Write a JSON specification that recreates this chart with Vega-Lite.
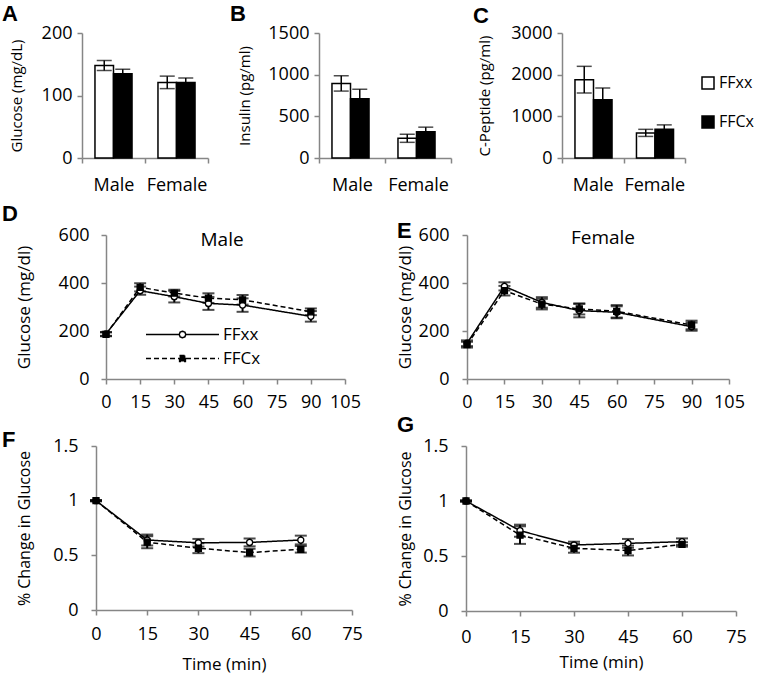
{
  "$schema": "https://vega.github.io/schema/vega-lite/v6.json",
  "padding": {"left": 2, "top": 3, "right": 2, "bottom": 2},
  "config": {
    "font": "Open Sans",
    "view": {"stroke": null},
    "axis": {"grid": false, "domainColor": "#868686", "tickColor": "#868686", "domainWidth": 1.5, "tickWidth": 1.5, "tickSize": 5, "labelColor": "black", "titleColor": "black", "labelFontSize": 18, "titleFontSize": 15, "titleFontWeight": "normal", "labelFont": "Open Sans", "titleFont": "Open Sans", "labelOverlap": false, "labelFlush": false},
    "axisX": {"labelAngle": 0},
    "title": {"font": "Liberation Sans", "fontSize": 22, "fontWeight": "bold", "anchor": "start", "frame": "group", "baseline": "alphabetic", "color": "black"},
    "legend": {"labelFont": "Open Sans", "labelColor": "black", "padding": 0}
  },
  "datasets": {
    "bars": [
      {"panel": "A", "sex": "Male", "genotype": "FFxx", "value": 148, "lo": 140, "hi": 156},
      {"panel": "A", "sex": "Male", "genotype": "FFCx", "value": 135, "lo": 128, "hi": 142},
      {"panel": "A", "sex": "Female", "genotype": "FFxx", "value": 121, "lo": 111, "hi": 131},
      {"panel": "A", "sex": "Female", "genotype": "FFCx", "value": 121, "lo": 114, "hi": 128},
      {"panel": "B", "sex": "Male", "genotype": "FFxx", "value": 895, "lo": 803, "hi": 987},
      {"panel": "B", "sex": "Male", "genotype": "FFCx", "value": 710, "lo": 595, "hi": 825},
      {"panel": "B", "sex": "Female", "genotype": "FFxx", "value": 238, "lo": 188, "hi": 285},
      {"panel": "B", "sex": "Female", "genotype": "FFCx", "value": 315, "lo": 260, "hi": 370},
      {"panel": "C", "sex": "Male", "genotype": "FFxx", "value": 1880, "lo": 1560, "hi": 2200},
      {"panel": "C", "sex": "Male", "genotype": "FFCx", "value": 1400, "lo": 1120, "hi": 1680},
      {"panel": "C", "sex": "Female", "genotype": "FFxx", "value": 603, "lo": 518, "hi": 688},
      {"panel": "C", "sex": "Female", "genotype": "FFCx", "value": 690, "lo": 585, "hi": 795}
    ],
    "ts": [
      {"panel": "D", "genotype": "FFxx", "time": 0, "value": 188, "lo": 180, "hi": 196},
      {"panel": "D", "genotype": "FFxx", "time": 15, "value": 368, "lo": 351, "hi": 385},
      {"panel": "D", "genotype": "FFxx", "time": 30, "value": 343, "lo": 319, "hi": 367},
      {"panel": "D", "genotype": "FFxx", "time": 45, "value": 315, "lo": 288, "hi": 342},
      {"panel": "D", "genotype": "FFxx", "time": 60, "value": 308, "lo": 280, "hi": 336},
      {"panel": "D", "genotype": "FFxx", "time": 90, "value": 261, "lo": 239, "hi": 283},
      {"panel": "D", "genotype": "FFCx", "time": 0, "value": 186, "lo": 178, "hi": 194},
      {"panel": "D", "genotype": "FFCx", "time": 15, "value": 382, "lo": 365, "hi": 399},
      {"panel": "D", "genotype": "FFCx", "time": 30, "value": 358, "lo": 344, "hi": 372},
      {"panel": "D", "genotype": "FFCx", "time": 45, "value": 337, "lo": 317, "hi": 357},
      {"panel": "D", "genotype": "FFCx", "time": 60, "value": 330, "lo": 310, "hi": 350},
      {"panel": "D", "genotype": "FFCx", "time": 90, "value": 280, "lo": 266, "hi": 294},
      {"panel": "E", "genotype": "FFxx", "time": 0, "value": 149, "lo": 137, "hi": 161},
      {"panel": "E", "genotype": "FFxx", "time": 15, "value": 386, "lo": 369, "hi": 403},
      {"panel": "E", "genotype": "FFxx", "time": 30, "value": 319, "lo": 297, "hi": 341},
      {"panel": "E", "genotype": "FFxx", "time": 45, "value": 285, "lo": 257, "hi": 313},
      {"panel": "E", "genotype": "FFxx", "time": 60, "value": 278, "lo": 253, "hi": 303},
      {"panel": "E", "genotype": "FFxx", "time": 90, "value": 218, "lo": 201, "hi": 235},
      {"panel": "E", "genotype": "FFCx", "time": 0, "value": 143, "lo": 131, "hi": 155},
      {"panel": "E", "genotype": "FFCx", "time": 15, "value": 368, "lo": 348, "hi": 388},
      {"panel": "E", "genotype": "FFCx", "time": 30, "value": 312, "lo": 290, "hi": 334},
      {"panel": "E", "genotype": "FFCx", "time": 45, "value": 292, "lo": 269, "hi": 315},
      {"panel": "E", "genotype": "FFCx", "time": 60, "value": 282, "lo": 256, "hi": 308},
      {"panel": "E", "genotype": "FFCx", "time": 90, "value": 225, "lo": 207, "hi": 243},
      {"panel": "F", "genotype": "FFxx", "time": 0, "value": 1, "lo": 0.995, "hi": 1.005},
      {"panel": "F", "genotype": "FFxx", "time": 15, "value": 0.64, "lo": 0.59, "hi": 0.69},
      {"panel": "F", "genotype": "FFxx", "time": 30, "value": 0.615, "lo": 0.58, "hi": 0.65},
      {"panel": "F", "genotype": "FFxx", "time": 45, "value": 0.618, "lo": 0.582, "hi": 0.654},
      {"panel": "F", "genotype": "FFxx", "time": 60, "value": 0.64, "lo": 0.6, "hi": 0.68},
      {"panel": "F", "genotype": "FFCx", "time": 0, "value": 1, "lo": 0.995, "hi": 1.005},
      {"panel": "F", "genotype": "FFCx", "time": 15, "value": 0.62, "lo": 0.565, "hi": 0.675},
      {"panel": "F", "genotype": "FFCx", "time": 30, "value": 0.565, "lo": 0.52, "hi": 0.61},
      {"panel": "F", "genotype": "FFCx", "time": 45, "value": 0.525, "lo": 0.49, "hi": 0.56},
      {"panel": "F", "genotype": "FFCx", "time": 60, "value": 0.555, "lo": 0.525, "hi": 0.585},
      {"panel": "G", "genotype": "FFxx", "time": 0, "value": 1, "lo": 0.995, "hi": 1.005},
      {"panel": "G", "genotype": "FFxx", "time": 15, "value": 0.73, "lo": 0.675, "hi": 0.785},
      {"panel": "G", "genotype": "FFxx", "time": 30, "value": 0.6, "lo": 0.57, "hi": 0.63},
      {"panel": "G", "genotype": "FFxx", "time": 45, "value": 0.615, "lo": 0.575, "hi": 0.655},
      {"panel": "G", "genotype": "FFxx", "time": 60, "value": 0.63, "lo": 0.6, "hi": 0.66},
      {"panel": "G", "genotype": "FFCx", "time": 0, "value": 1, "lo": 0.995, "hi": 1.005},
      {"panel": "G", "genotype": "FFCx", "time": 15, "value": 0.69, "lo": 0.61, "hi": 0.77},
      {"panel": "G", "genotype": "FFCx", "time": 30, "value": 0.57, "lo": 0.53, "hi": 0.61},
      {"panel": "G", "genotype": "FFCx", "time": 45, "value": 0.55, "lo": 0.505, "hi": 0.595},
      {"panel": "G", "genotype": "FFCx", "time": 60, "value": 0.605, "lo": 0.585, "hi": 0.625}
    ]
  },
  "spacing": 9,
  "resolve": {"scale": {"fill": "independent", "shape": "independent", "strokeDash": "independent"}},
  "vconcat": [
    {
      "resolve": {"scale": {"fill": "independent", "shape": "independent", "strokeDash": "independent"}},
      "hconcat": [
        {
          "width": 102, "height": 125,
          "title": {"text": "A", "dx": -104, "offset": -2},
          "data": {"name": "bars"},
          "transform": [{"filter": "datum.panel === 'A'"}],
          "encoding": {
            "x": {"field": "sex", "type": "nominal", "sort": ["Male", "Female"], "scale": {"paddingInner": 0, "paddingOuter": 0, "range": [-24, 102]}, "axis": {"title": null, "tickBand": "extent", "labelPadding": 13}},
            "xOffset": {"field": "genotype", "sort": ["FFxx", "FFCx"], "scale": {"paddingInner": 0, "paddingOuter": 0.7}}
          },
          "layer": [
            {"mark": {"type": "bar", "stroke": "black", "strokeWidth": 1.5},
             "encoding": {
               "y": {"field": "value", "type": "quantitative", "scale": {"domain": [0, 200], "nice": false}, "axis": {"values": [0, 100, 200], "format": "d", "offset": 24, "title": "Glucose (mg/dL)", "labelPadding": 5, "titlePadding": 17}},
               "fill": {"field": "genotype", "scale": {"domain": ["FFxx", "FFCx"], "range": ["white", "black"]}, "legend": null}}},
            {"mark": {"type": "rule", "color": "black", "strokeWidth": 1.5}, "encoding": {"y": {"field": "lo", "type": "quantitative"}, "y2": {"field": "hi"}}},
            {"mark": {"type": "tick", "orient": "horizontal", "color": "black", "size": 15, "thickness": 1.5}, "encoding": {"y": {"field": "lo", "type": "quantitative"}}},
            {"mark": {"type": "tick", "orient": "horizontal", "color": "black", "size": 15, "thickness": 1.5}, "encoding": {"y": {"field": "hi", "type": "quantitative"}}}
          ]
        },
        {
          "width": 132, "height": 125,
          "title": {"text": "B", "dx": -89, "offset": -2},
          "data": {"name": "bars"},
          "transform": [{"filter": "datum.panel === 'B'"}],
          "encoding": {
            "x": {"field": "sex", "type": "nominal", "sort": ["Male", "Female"], "scale": {"paddingInner": 0, "paddingOuter": 0}, "axis": {"title": null, "tickBand": "extent", "labelPadding": 13}},
            "xOffset": {"field": "genotype", "sort": ["FFxx", "FFCx"], "scale": {"paddingInner": 0, "paddingOuter": 0.7}}
          },
          "layer": [
            {"mark": {"type": "bar", "stroke": "black", "strokeWidth": 1.5},
             "encoding": {
               "y": {"field": "value", "type": "quantitative", "scale": {"domain": [0, 1500], "nice": false}, "axis": {"values": [0, 500, 1000, 1500], "format": "d", "title": "Insulin (pg/ml)", "labelPadding": 5, "titlePadding": 15}},
               "fill": {"field": "genotype", "scale": {"domain": ["FFxx", "FFCx"], "range": ["white", "black"]}, "legend": null}}},
            {"mark": {"type": "rule", "color": "black", "strokeWidth": 1.5}, "encoding": {"y": {"field": "lo", "type": "quantitative"}, "y2": {"field": "hi"}}},
            {"mark": {"type": "tick", "orient": "horizontal", "color": "black", "size": 15, "thickness": 1.5}, "encoding": {"y": {"field": "lo", "type": "quantitative"}}},
            {"mark": {"type": "tick", "orient": "horizontal", "color": "black", "size": 15, "thickness": 1.5}, "encoding": {"y": {"field": "hi", "type": "quantitative"}}}
          ]
        },
        {
          "width": 123, "height": 125,
          "title": {"text": "C", "dx": -89, "offset": -4},
          "data": {"name": "bars"},
          "transform": [{"filter": "datum.panel === 'C'"}],
          "encoding": {
            "x": {"field": "sex", "type": "nominal", "sort": ["Male", "Female"], "scale": {"paddingInner": 0, "paddingOuter": 0}, "axis": {"title": null, "tickBand": "extent", "labelPadding": 13}},
            "xOffset": {"field": "genotype", "sort": ["FFxx", "FFCx"], "scale": {"paddingInner": 0, "paddingOuter": 0.7}}
          },
          "layer": [
            {"mark": {"type": "bar", "stroke": "black", "strokeWidth": 1.5},
             "encoding": {
               "y": {"field": "value", "type": "quantitative", "scale": {"domain": [0, 3000], "nice": false}, "axis": {"values": [0, 1000, 2000, 3000], "format": "d", "title": "C-Peptide (pg/ml)", "labelPadding": 5, "titlePadding": 18}},
               "fill": {"field": "genotype", "scale": {"domain": ["FFxx", "FFCx"], "range": ["white", "black"]},
                        "legend": {"title": null, "orient": "none", "legendX": 138, "legendY": 42, "symbolType": "square", "symbolSize": 144, "symbolStrokeColor": "black", "symbolStrokeWidth": 1.5, "labelFontSize": 16, "labelOffset": 3, "rowPadding": 21}}}},
            {"mark": {"type": "rule", "color": "black", "strokeWidth": 1.5}, "encoding": {"y": {"field": "lo", "type": "quantitative"}, "y2": {"field": "hi"}}},
            {"mark": {"type": "tick", "orient": "horizontal", "color": "black", "size": 15, "thickness": 1.5}, "encoding": {"y": {"field": "lo", "type": "quantitative"}}},
            {"mark": {"type": "tick", "orient": "horizontal", "color": "black", "size": 15, "thickness": 1.5}, "encoding": {"y": {"field": "hi", "type": "quantitative"}}}
          ]
        }
      ],
      "spacing": 111,
      "bounds": "flush"
    },
    {
      "spacing": 3,
      "resolve": {"scale": {"fill": "independent", "shape": "independent", "strokeDash": "independent"}},
      "vconcat": [
        {
          "resolve": {"scale": {"fill": "independent", "shape": "independent", "strokeDash": "independent"}},
          "hconcat": [
            {
              "width": 239, "height": 144,
              "title": {"text": "D", "dx": -104, "offset": 0},
              "data": {"name": "ts"},
              "transform": [{"filter": "datum.panel === 'D'"}],
              "encoding": {"x": {"field": "time", "type": "quantitative", "scale": {"domain": [0, 105], "nice": false}, "axis": {"values": [0, 15, 30, 45, 60, 75, 90, 105], "title": null, "labelPadding": 9}}},
              "layer": [
                {"mark": {"type": "line", "color": "black", "strokeWidth": 1.5},
                 "encoding": {
                   "y": {"field": "value", "type": "quantitative", "scale": {"domain": [0, 600], "nice": false}, "axis": {"values": [0, 200, 400, 600], "format": "d", "title": "Glucose (mg/dl)", "titleFontSize": 17, "labelPadding": 12, "titlePadding": 25}},
                   "strokeDash": {"field": "genotype", "type": "nominal", "scale": {"domain": ["FFxx", "FFCx"], "range": [[1, 0], [5, 3]]}}}},
                {"mark": {"type": "rule", "color": "black", "strokeWidth": 2}, "encoding": {"y": {"field": "lo", "type": "quantitative"}, "y2": {"field": "hi"}}},
                {"mark": {"type": "tick", "orient": "horizontal", "color": "black", "size": 12, "thickness": 2}, "encoding": {"y": {"field": "lo", "type": "quantitative"}}},
                {"mark": {"type": "tick", "orient": "horizontal", "color": "black", "size": 12, "thickness": 2}, "encoding": {"y": {"field": "hi", "type": "quantitative"}}},
                {"transform": [{"filter": "datum.genotype === 'FFxx'"}], "mark": {"type": "point", "shape": "circle", "filled": true, "fill": "white", "stroke": "black", "strokeWidth": 1.3, "opacity": 1, "size": 36}, "encoding": {"y": {"field": "value", "type": "quantitative"}}},
                {"transform": [{"filter": "datum.genotype === 'FFCx'"}], "mark": {"type": "point", "shape": "square", "filled": true, "fill": "black", "stroke": "black", "strokeWidth": 1.3, "opacity": 1, "size": 36}, "encoding": {"y": {"field": "value", "type": "quantitative"}}},
                {"transform": [{"filter": "datum.genotype === 'none'"}],
                 "mark": {"type": "point", "color": "black", "strokeWidth": 1.5, "opacity": 1},
                 "encoding": {
                   "y": {"field": "value", "type": "quantitative"},
                   "shape": {"field": "genotype", "type": "nominal", "scale": {"domain": ["FFxx", "FFCx"], "range": ["M-7.3,0H-0.66M0.66,0H7.3M0.66,0L0.47,0.47L0,0.66L-0.47,0.47L-0.66,0L-0.47,-0.47L0,-0.66L0.47,-0.47Z", "M-7.3,0H7.3M-0.58,-0.58H0.58V0.58H-0.58Z"]},
                     "legend": {"title": null, "orient": "none", "legendX": 68, "legendY": 91, "symbolSize": 100, "symbolStrokeColor": "black", "symbolStrokeWidth": 1.5, "labelFontSize": 17, "labelOffset": 32, "rowPadding": 6}},
                   "fill": {"field": "genotype", "type": "nominal", "scale": {"domain": ["FFxx", "FFCx"], "range": ["white", "black"]},
                     "legend": {"title": null, "orient": "none", "legendX": 68, "legendY": 91, "symbolSize": 100, "symbolStrokeColor": "black", "symbolStrokeWidth": 1.5, "labelFontSize": 17, "labelOffset": 32, "rowPadding": 6}},
                   "strokeDash": {"field": "genotype", "type": "nominal",
                     "legend": {"title": null, "orient": "none", "legendX": 68, "legendY": 91, "symbolSize": 100, "symbolStrokeColor": "black", "symbolStrokeWidth": 1.5, "labelFontSize": 17, "labelOffset": 32, "rowPadding": 6}}}},
                {"transform": [{"filter": "datum.time === 0 && datum.genotype === 'FFxx'"}],
                 "mark": {"type": "text", "text": "Male", "fontSize": 19, "baseline": "alphabetic", "dy": 11, "color": "black"},
                 "encoding": {"x": {"datum": 51}, "y": {"datum": 600}}}
              ]
            },
            {
              "width": 262, "height": 144,
              "title": {"text": "E", "dx": -70, "offset": -17},
              "data": {"name": "ts"},
              "transform": [{"filter": "datum.panel === 'E'"}],
              "encoding": {"x": {"field": "time", "type": "quantitative", "scale": {"domain": [0, 105], "nice": false}, "axis": {"values": [0, 15, 30, 45, 60, 75, 90, 105], "title": null, "labelPadding": 9}}},
              "layer": [
                {"mark": {"type": "line", "color": "black", "strokeWidth": 1.5},
                 "encoding": {
                   "y": {"field": "value", "type": "quantitative", "scale": {"domain": [0, 600], "nice": false}, "axis": {"values": [0, 200, 400, 600], "format": "d", "title": "Glucose (mg/dl)", "titleFontSize": 17, "labelPadding": 13, "titlePadding": 4}},
                   "strokeDash": {"field": "genotype", "type": "nominal", "scale": {"domain": ["FFxx", "FFCx"], "range": [[1, 0], [5, 3]]}, "legend": null}}},
                {"mark": {"type": "rule", "color": "black", "strokeWidth": 2}, "encoding": {"y": {"field": "lo", "type": "quantitative"}, "y2": {"field": "hi"}}},
                {"mark": {"type": "tick", "orient": "horizontal", "color": "black", "size": 12, "thickness": 2}, "encoding": {"y": {"field": "lo", "type": "quantitative"}}},
                {"mark": {"type": "tick", "orient": "horizontal", "color": "black", "size": 12, "thickness": 2}, "encoding": {"y": {"field": "hi", "type": "quantitative"}}},
                {"transform": [{"filter": "datum.genotype === 'FFxx'"}], "mark": {"type": "point", "shape": "circle", "filled": true, "fill": "white", "stroke": "black", "strokeWidth": 1.3, "opacity": 1, "size": 36}, "encoding": {"y": {"field": "value", "type": "quantitative"}}},
                {"transform": [{"filter": "datum.genotype === 'FFCx'"}], "mark": {"type": "point", "shape": "square", "filled": true, "fill": "black", "stroke": "black", "strokeWidth": 1.3, "opacity": 1, "size": 36}, "encoding": {"y": {"field": "value", "type": "quantitative"}}},
                {"transform": [{"filter": "datum.time === 0 && datum.genotype === 'FFxx'"}],
                 "mark": {"type": "text", "text": "Female", "fontSize": 19, "baseline": "alphabetic", "dy": 9, "color": "black"},
                 "encoding": {"x": {"datum": 54.5}, "y": {"datum": 600}}}
              ]
            }
          ],
          "spacing": 122,
          "bounds": "flush"
        },
        {
          "resolve": {"scale": {"fill": "independent", "shape": "independent", "strokeDash": "independent"}},
          "hconcat": [
            {
              "width": 246, "height": 164,
              "title": {"text": "F", "dx": -104, "offset": -15},
              "data": {"name": "ts"},
              "transform": [{"filter": "datum.panel === 'F'"}],
              "encoding": {"x": {"field": "time", "type": "quantitative", "scale": {"domain": [0, 75], "nice": false, "range": [-10, 246]}, "axis": {"values": [0, 15, 30, 45, 60, 75], "title": "Time (min)", "titleFontSize": 17, "labelPadding": 10, "titlePadding": 13}}},
              "layer": [
                {"mark": {"type": "line", "color": "black", "strokeWidth": 1.5},
                 "encoding": {
                   "y": {"field": "value", "type": "quantitative", "scale": {"domain": [0, 1.5], "nice": false}, "axis": {"values": [0, 0.5, 1, 1.5], "format": "~g", "offset": 10, "title": "% Change in Glucose", "titleFontSize": 16, "labelPadding": 13, "titlePadding": 20}},
                   "strokeDash": {"field": "genotype", "type": "nominal", "scale": {"domain": ["FFxx", "FFCx"], "range": [[1, 0], [5, 3]]}, "legend": null}}},
                {"mark": {"type": "rule", "color": "black", "strokeWidth": 2}, "encoding": {"y": {"field": "lo", "type": "quantitative"}, "y2": {"field": "hi"}}},
                {"mark": {"type": "tick", "orient": "horizontal", "color": "black", "size": 12, "thickness": 2}, "encoding": {"y": {"field": "lo", "type": "quantitative"}}},
                {"mark": {"type": "tick", "orient": "horizontal", "color": "black", "size": 12, "thickness": 2}, "encoding": {"y": {"field": "hi", "type": "quantitative"}}},
                {"transform": [{"filter": "datum.genotype === 'FFxx'"}], "mark": {"type": "point", "shape": "circle", "filled": true, "fill": "white", "stroke": "black", "strokeWidth": 1.3, "opacity": 1, "size": 36}, "encoding": {"y": {"field": "value", "type": "quantitative"}}},
                {"transform": [{"filter": "datum.genotype === 'FFCx'"}], "mark": {"type": "point", "shape": "square", "filled": true, "fill": "black", "stroke": "black", "strokeWidth": 1.3, "opacity": 1, "size": 36}, "encoding": {"y": {"field": "value", "type": "quantitative"}}}
              ]
            },
            {
              "width": 270, "height": 165,
              "title": {"text": "G", "dx": -69, "offset": 0},
              "data": {"name": "ts"},
              "transform": [{"filter": "datum.panel === 'G'"}],
              "encoding": {"x": {"field": "time", "type": "quantitative", "scale": {"domain": [0, 75], "nice": false}, "axis": {"values": [0, 15, 30, 45, 60, 75], "title": "Time (min)", "titleFontSize": 17, "labelPadding": 12, "titlePadding": 8}}},
              "layer": [
                {"mark": {"type": "line", "color": "black", "strokeWidth": 1.5},
                 "encoding": {
                   "y": {"field": "value", "type": "quantitative", "scale": {"domain": [0, 1.5], "nice": false}, "axis": {"values": [0, 0.5, 1, 1.5], "format": "~g", "title": "% Change in Glucose", "titleFontSize": 16, "labelPadding": 13, "titlePadding": 9}},
                   "strokeDash": {"field": "genotype", "type": "nominal", "scale": {"domain": ["FFxx", "FFCx"], "range": [[1, 0], [5, 3]]}, "legend": null}}},
                {"mark": {"type": "rule", "color": "black", "strokeWidth": 2}, "encoding": {"y": {"field": "lo", "type": "quantitative"}, "y2": {"field": "hi"}}},
                {"mark": {"type": "tick", "orient": "horizontal", "color": "black", "size": 12, "thickness": 2}, "encoding": {"y": {"field": "lo", "type": "quantitative"}}},
                {"mark": {"type": "tick", "orient": "horizontal", "color": "black", "size": 12, "thickness": 2}, "encoding": {"y": {"field": "hi", "type": "quantitative"}}},
                {"transform": [{"filter": "datum.genotype === 'FFxx'"}], "mark": {"type": "point", "shape": "circle", "filled": true, "fill": "white", "stroke": "black", "strokeWidth": 1.3, "opacity": 1, "size": 36}, "encoding": {"y": {"field": "value", "type": "quantitative"}}},
                {"transform": [{"filter": "datum.genotype === 'FFCx'"}], "mark": {"type": "point", "shape": "square", "filled": true, "fill": "black", "stroke": "black", "strokeWidth": 1.3, "opacity": 1, "size": 36}, "encoding": {"y": {"field": "value", "type": "quantitative"}}}
              ]
            }
          ],
          "spacing": 114,
          "bounds": "flush"
        }
      ]
    }
  ]
}
